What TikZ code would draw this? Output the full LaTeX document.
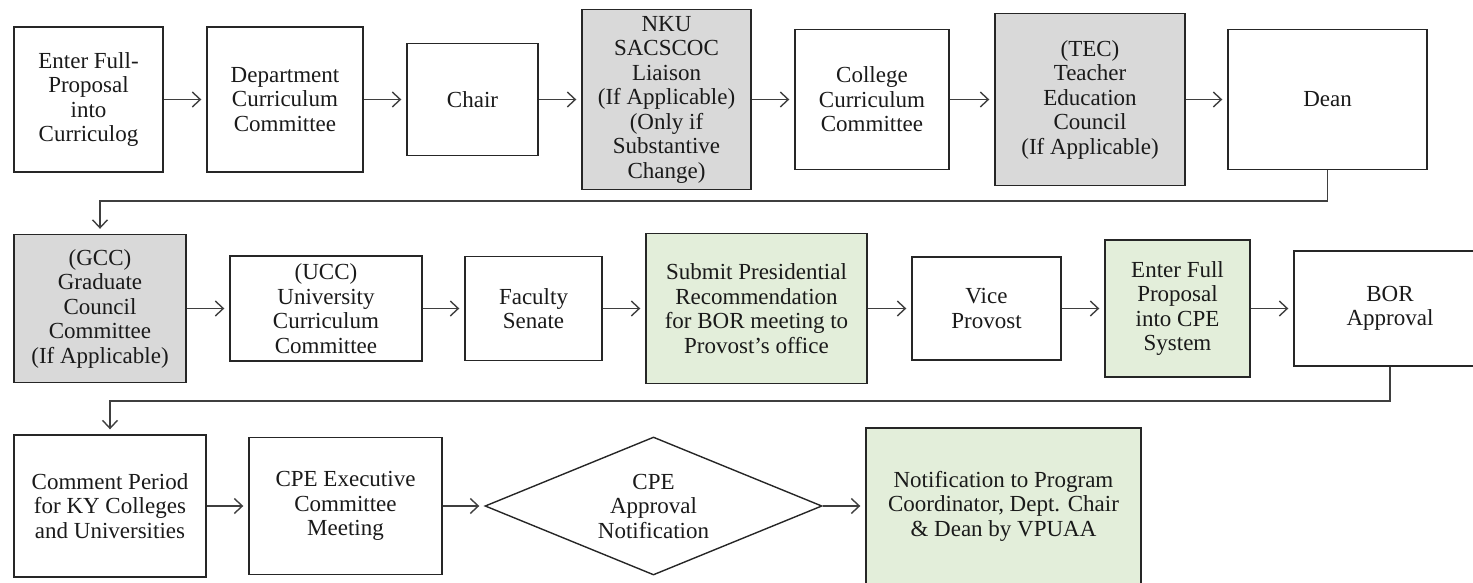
\documentclass[tikz,border=0pt]{standalone}
\usepackage{fontspec}
\setmainfont{Liberation Serif}
\usetikzlibrary{arrows.meta,shapes.geometric}
\definecolor{boxline}{HTML}{262626}
\definecolor{conn}{HTML}{3F3F3F}
\definecolor{txt}{HTML}{1A1A1A}
\definecolor{greyfill}{HTML}{D9D9D9}
\definecolor{greenfill}{HTML}{E3EEDA}
\tikzset{
  box/.style={draw=boxline, line width=1.4pt, align=center, inner sep=2pt, text=txt,
    font=\fontsize{23}{24.5}\selectfont},
  greybox/.style={box, fill=greyfill},
  greenbox/.style={box, fill=greenfill},
  arr/.style={draw=conn, line width=1.4pt, -{Straight Barb[length=8pt,width=15pt]}, shorten >=5pt}
}
\begin{document}
\begin{tikzpicture}[x=1pt,y=-1pt]
\useasboundingbox (0,0) rectangle (1473,583);
% Row 1
\node[box, minimum width=149pt, minimum height=145pt] (b1) at (88.5,99.5) {Enter Full-\\Proposal\\into\\Curriculog};
\node[box, minimum width=156pt, minimum height=145pt] (b2) at (285,99.5) {Department\\Curriculum\\Committee};
\node[box, minimum width=131pt, minimum height=112pt] (chair) at (472.5,99.5) {Chair};
\node[greybox, minimum width=169pt, minimum height=180pt] (nku) at (666.5,99.5) {NKU\\SACSCOC\\Liaison\\(If Applicable)\\(Only if\\Substantive\\Change)};
\node[box, minimum width=154pt, minimum height=140pt] (college) at (872,99.5) {College\\Curriculum\\Committee};
\node[greybox, minimum width=190pt, minimum height=172pt] (tec) at (1090,99.5) {(TEC)\\Teacher\\Education\\Council\\(If Applicable)};
\node[box, minimum width=199pt, minimum height=140pt] (dean) at (1327.5,99.5) {Dean};
% Row 2
\node[greybox, minimum width=172pt, minimum height=148pt] (gcc) at (100,308.5) {(GCC)\\Graduate\\Council\\Committee\\(If Applicable)};
\node[box, minimum width=192pt, minimum height=105pt] (ucc) at (326,308.5) {(UCC)\\University\\Curriculum\\Committee};
\node[box, minimum width=137pt, minimum height=104pt] (fac) at (533.5,308.5) {Faculty\\Senate};
\node[greenbox, minimum width=221pt, minimum height=150pt] (submit) at (756.5,308.5) {Submit Presidential\\Recommendation\\for BOR meeting to\\Provost’s office};
\node[box, minimum width=149pt, minimum height=103pt] (vice) at (986.5,308.5) {Vice\\Provost};
\node[greenbox, minimum width=145pt, minimum height=137pt] (cpe) at (1177.5,308.5) {Enter Full\\Proposal\\into CPE\\System};
\node[box, minimum width=192pt, minimum height=115pt] (bor) at (1390,308.5) {BOR\\Approval};
% Row 3
\node[box, minimum width=192pt, minimum height=142pt] (comment) at (110,506) {Comment Period\\for KY Colleges\\and Universities};
\node[box, minimum width=193pt, minimum height=137pt] (exec) at (345.5,506) {CPE Executive\\Committee\\Meeting};
\node[diamond, shape aspect=2.44, draw=boxline, line width=1.4pt, align=center, inner sep=0pt, text=txt,
  font=\fontsize{23}{24.5}\selectfont, minimum width=337pt, minimum height=138pt] (dia) at (653.5,506) {CPE\\Approval\\Notification};
\node[greenbox, minimum width=275pt, minimum height=156pt] (notif) at (1003.5,506) {Notification to Program\\Coordinator, Dept. Chair\\\& Dean by VPUAA};
% connectors row 1
\draw[arr] (b1) -- (b2);
\draw[arr] (b2) -- (chair);
\draw[arr] (chair) -- (nku);
\draw[arr] (nku) -- (college);
\draw[arr] (college) -- (tec);
\draw[arr] (tec) -- (dean);
% loop 1
\coordinate (k1) at (100,201);
\draw[arr] (dean.south) -- (dean.south |- k1) -| (gcc.north);
% row 2
\draw[arr] (gcc) -- (ucc);
\draw[arr] (ucc) -- (fac);
\draw[arr] (fac) -- (submit);
\draw[arr] (submit) -- (vice);
\draw[arr] (vice) -- (cpe);
\draw[arr] (cpe) -- (bor);
% loop 2
\coordinate (k2) at (110,401);
\draw[arr] (bor.south) -- (bor.south |- k2) -| (comment.north);
% row 3
\draw[arr] (comment) -- (exec);
\draw[arr] (exec) -- (dia);
\draw[arr] (dia) -- (notif);
\end{tikzpicture}
\end{document}
